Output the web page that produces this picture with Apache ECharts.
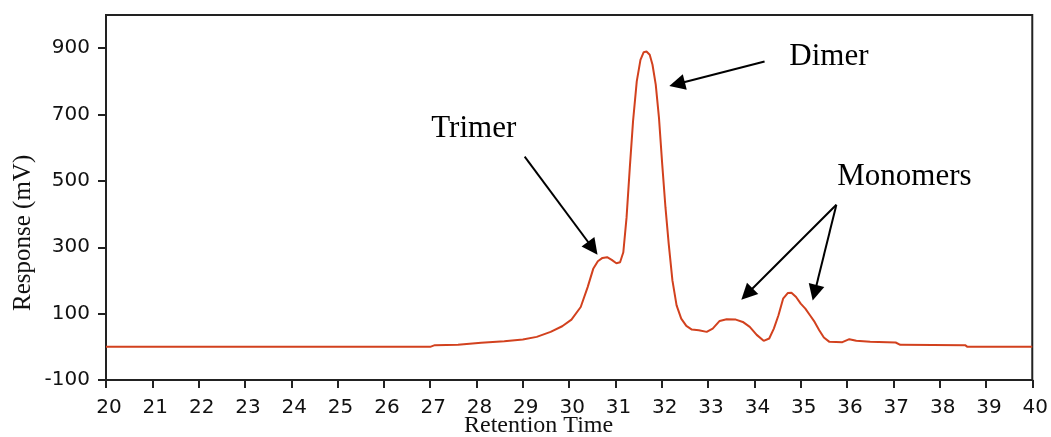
<!DOCTYPE html>
<html>
<head>
<meta charset="utf-8">
<script src="https://cdn.jsdelivr.net/npm/echarts@6/dist/echarts.min.js"></script>
<style>html,body{margin:0;padding:0;background:#fff;}#c{width:1051px;height:437px;}</style>
</head>
<body>
<div id="c"></div>
<script>
const time = [20,27,27.1,27.6,28.1,28.6,29.0,29.3,29.6,29.85,30.05,30.25,30.4,30.52,30.62,30.72,30.82,30.92,31.02,31.1,31.17,31.24,31.31,31.38,31.46,31.54,31.61,31.67,31.74,31.8,31.87,31.94,32.01,32.08,32.15,32.23,32.32,32.42,32.53,32.65,32.8,32.97,33.1,33.25,33.4,33.6,33.75,33.9,34.05,34.2,34.32,34.42,34.52,34.62,34.72,34.8,34.9,35.0,35.1,35.2,35.3,35.4,35.5,35.62,35.9,36.05,36.2,36.5,37.05,37.15,38.55,38.6,40];
const response = [0,0,5,6,12,17,22,30,45,62,82,120,180,235,258,268,270,262,252,255,285,390,540,680,800,865,888,890,880,850,790,690,550,420,310,200,125,85,63,52,50,45,55,78,83,82,75,60,36,18,25,55,95,145,162,163,150,130,115,95,75,50,28,15,14,23,18,15,13,6,5,0,0];
const yTicks = [-100,100,300,500,700,900];
const xTicks = [20,21,22,23,24,25,26,27,28,29,30,31,32,33,34,35,36,37,38,39,40];
const labelText = ['Trimer','Dimer','Monomers'];
const labelX = [27.94,35.61,37.24];
const labelY = [658,874,513];
// arrows: start point and arrowhead centre
const arrowStartX = [29.04,34.22,35.77,35.77];
const arrowStartY = [573,860,428,428];
const arrowHeadX = [30.51,32.33,33.84,35.30];
const arrowHeadY = [297,792,159,163];
const xTitle = 'Retention Time';
const yTitle = 'Response (mV)';

const chart = echarts.init(document.getElementById('c'), null, {renderer:'canvas'});
const lineData = time.map((t,i)=>[t,response[i]]);
const arrows = arrowStartX.map((x,i)=>[{coord:[x,arrowStartY[i]]},{coord:[arrowHeadX[i],arrowHeadY[i]]}]);
const labels = labelText.map((s,i)=>({coord:[labelX[i],labelY[i]], value:s}));

chart.setOption({
  animation:false,
  backgroundColor:'#fff',
  grid:{left:106,right:14,top:15,bottom:57,show:true,borderColor:'#222',borderWidth:2,backgroundColor:'transparent'},
  xAxis:{type:'value',min:20,max:40,interval:1,
    axisLine:{show:true,onZero:false,lineStyle:{color:'#222',width:2}},
    axisTick:{show:true,length:8,lineStyle:{color:'#222',width:2},customValues:xTicks},
    axisLabel:{color:'#111',fontFamily:'DejaVu Sans, sans-serif',fontSize:20,margin:18,padding:[0,0,0,6],customValues:xTicks},
    splitLine:{show:false}},
  yAxis:{type:'value',min:-100,max:1000,interval:200,
    axisLine:{show:true,onZero:false,lineStyle:{color:'#222',width:2}},
    axisTick:{show:true,length:8,lineStyle:{color:'#222',width:2},customValues:yTicks},
    axisLabel:{color:'#111',fontFamily:'DejaVu Sans, sans-serif',fontSize:20,margin:16,customValues:yTicks},
    splitLine:{show:false}},
  graphic:[
    {type:'text',left:464,top:414,style:{text:xTitle,font:'24px "Liberation Serif", serif',fill:'#111'}},
    {type:'text',rotation:Math.PI/2,x:11,y:311,style:{text:yTitle,font:'25px "Liberation Serif", serif',fill:'#111'}}
  ],
  series:[{
    type:'line',data:lineData,symbol:'none',smooth:false,
    lineStyle:{color:'#d2411e',width:2},
    markLine:{silent:true,symbol:['none','triangle'],symbolSize:16,
      lineStyle:{color:'#000',width:2,type:'solid'},itemStyle:{color:'#000'},label:{show:false},
      data:arrows},
    markPoint:{silent:true,symbol:'circle',symbolSize:0,
      label:{show:true,formatter:p=>p.value,color:'#000',fontFamily:'Liberation Serif, Times New Roman, serif',fontSize:31,position:'inside'},
      data:labels}
  }]
});
</script>
</body>
</html>
